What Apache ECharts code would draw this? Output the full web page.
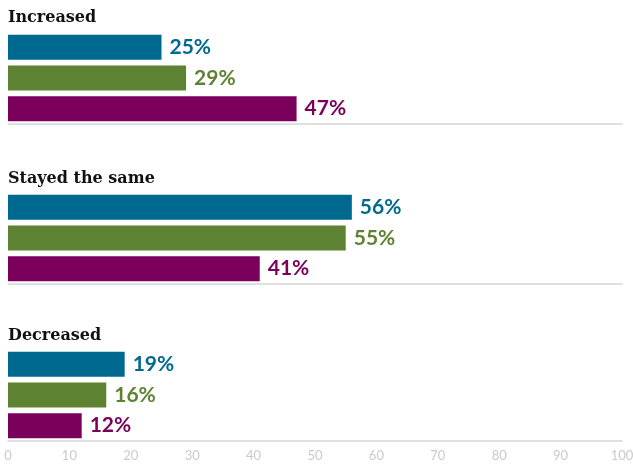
<!DOCTYPE html>
<html><head><meta charset="utf-8">
<script src="https://cdn.jsdelivr.net/npm/echarts@6/dist/echarts.min.js"></script>
<style>html,body{margin:0;padding:0;background:#fff}#c{width:633px;height:467px}</style>
</head><body><div id="c"></div>
<script>
const groups = ["Increased", "Stayed the same", "Decreased"];
const seriesNames = ["Group A", "Group B", "Group C"];
const valuesA = [25, 56, 19];
const valuesB = [29, 55, 16];
const valuesC = [47, 41, 12];
const colors = ["#006990", "#5d8232", "#7a005c"];
const xTicks = [0, 10, 20, 30, 40, 50, 60, 70, 80, 90, 100];

const allValues = [valuesA, valuesB, valuesC];
const gridTops = [32, 192, 349];
const gridH = 92;
const titleY = [18, 179, 336];

const grids = [], xAxes = [], yAxes = [], series = [], graphics = [];
groups.forEach((g, gi) => {
  grids.push({left: 8, right: 11, top: gridTops[gi], height: gridH, outerBoundsMode: 'none', containLabel: false});
  const last = gi === groups.length - 1;
  xAxes.push({
    gridIndex: gi, type: 'value', min: 0, max: 100, interval: 10,
    axisLine: {show: true, lineStyle: {color: '#d4d6d6', width: 1.5}},
    axisTick: {show: false}, splitLine: {show: false},
    axisLabel: {show: last, color: '#c9cbcb', fontFamily: 'Lato', fontSize: 13, margin: 8,
      formatter: v => xTicks.includes(v) ? String(v) : ''}
  });
  yAxes.push({
    gridIndex: gi, type: 'category', inverse: true, data: seriesNames,
    axisLine: {show: false}, axisTick: {show: false}, axisLabel: {show: false}
  });
  series.push({
    type: 'bar', xAxisIndex: gi, yAxisIndex: gi, barWidth: 25,
    data: allValues.map((arr, si) => ({value: arr[gi], itemStyle: {color: colors[si]},
      label: {color: colors[si]}})),
    label: {show: true, position: 'right', distance: 8, fontFamily: 'Lato', fontWeight: 'bold',
      fontSize: 21, formatter: p => p.value + '%'}
  });
  graphics.push({type: 'text', x: 8, y: titleY[gi],
    style: {text: g, fontFamily: 'DejaVu Serif', fontWeight: 'bold', fontSize: 16, fill: '#111',
      verticalAlign: 'middle', textVerticalAlign: 'middle'}});
});

const chart = echarts.init(document.getElementById('c'), null, {renderer: 'canvas'});
chart.setOption({animation: false, grid: grids, xAxis: xAxes, yAxis: yAxes, series, graphic: graphics});
</script></body></html>
